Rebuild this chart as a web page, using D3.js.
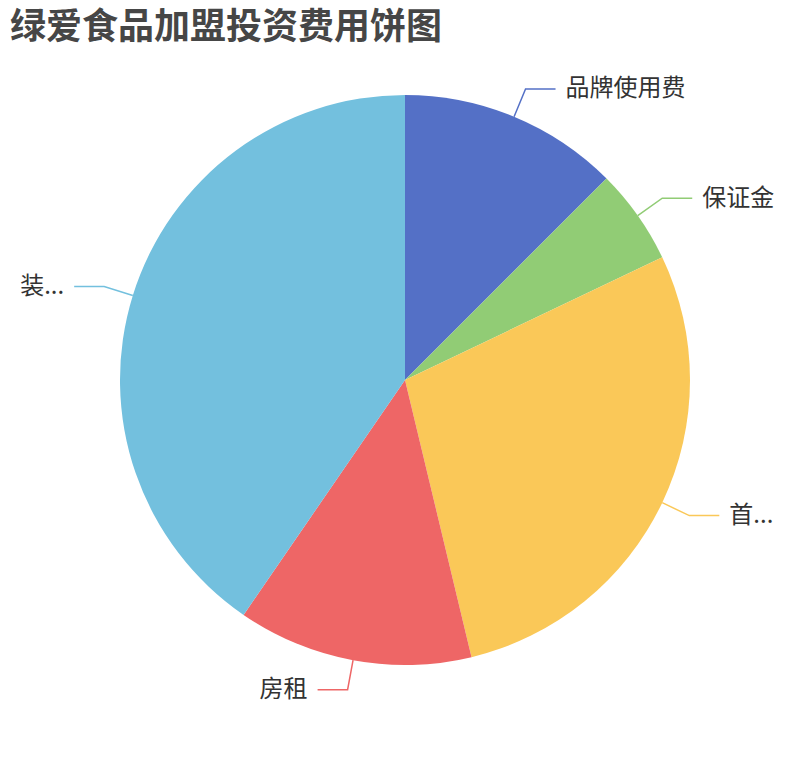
<!DOCTYPE html>
<html>
<head>
<meta charset="utf-8">
<script src="https://cdn.jsdelivr.net/npm/d3@7"></script>
<style>
    body { margin: 0; background: #fff; }
    text { font-family: "Noto Sans CJK SC", "Noto Sans", sans-serif; }
</style>
</head>
<body>
<svg id="chart" width="810" height="760"></svg>
<script>
const categories = ["品牌使用费", "保证金", "首批进货费", "房租", "装修费用"];
const values = [3, 1.3, 6.8, 3.2, 9.7];
const colors = ["#5470c6", "#91cc75", "#fac858", "#ee6666", "#73c0de"];

const svg = d3.select("#chart");
const width = 810;
const height = 760;
const cx = 405;
const cy = 380;
const radius = 285;

const data = categories.map((name, i) => ({ name, value: values[i] }));

// title
svg.append("text")
    .attr("x", 10)
    .attr("y", 39)
    .style("font-size", "36px")
    .style("font-weight", "bold")
    .attr("fill", "#464646")
    .text("绿爱食品加盟投资费用饼图");

const pie = d3.pie()
    .sort(null)
    .value(d => d.value);

const arc = d3.arc()
    .innerRadius(0)
    .outerRadius(radius);

const arcs = pie(data);

const g = svg.append("g")
    .attr("transform", `translate(${cx},${cy})`);

// slices
g.selectAll("path.slice")
    .data(arcs)
    .enter()
    .append("path")
    .attr("class", "slice")
    .attr("d", arc)
    .attr("fill", (d, i) => colors[i]);

// label lines + labels
const len1 = 30;
const len2 = 30;

arcs.forEach((d, i) => {
    const mid = (d.startAngle + d.endAngle) / 2;
    const sx = Math.sin(mid), sy = -Math.cos(mid);
    const p0 = [sx * radius, sy * radius];
    const p1 = [sx * (radius + len1), sy * (radius + len1)];
    const isLeft = sx < 0;
    const p2 = [p1[0] + (isLeft ? -len2 : len2), p1[1]];

    g.append("polyline")
        .attr("points", [p0, p1, p2].map(p => p.join(",")).join(" "))
        .attr("fill", "none")
        .attr("stroke", colors[i])
        .attr("stroke-width", 1.5);

    const tx = p2[0] + (isLeft ? -10 : 10);
    const label = g.append("text")
        .attr("x", tx)
        .attr("y", p2[1] - 3)
        .attr("dominant-baseline", "central")
        .attr("text-anchor", isLeft ? "end" : "start")
        .attr("fill", "#333")
        .style("font-size", "24px")
        .text(d.data.name);

    // truncate the label if it runs off the canvas
    const absX = cx + tx;
    const avail = isLeft ? absX - 20 : width - absX - 20;
    let name = d.data.name;
    if (label.node().getComputedTextLength() > avail) {
        while (name.length > 0) {
            name = name.slice(0, -1);
            label.text(name + "...");
            if (label.node().getComputedTextLength() <= avail) break;
        }
    }
});
</script>
</body>
</html>
